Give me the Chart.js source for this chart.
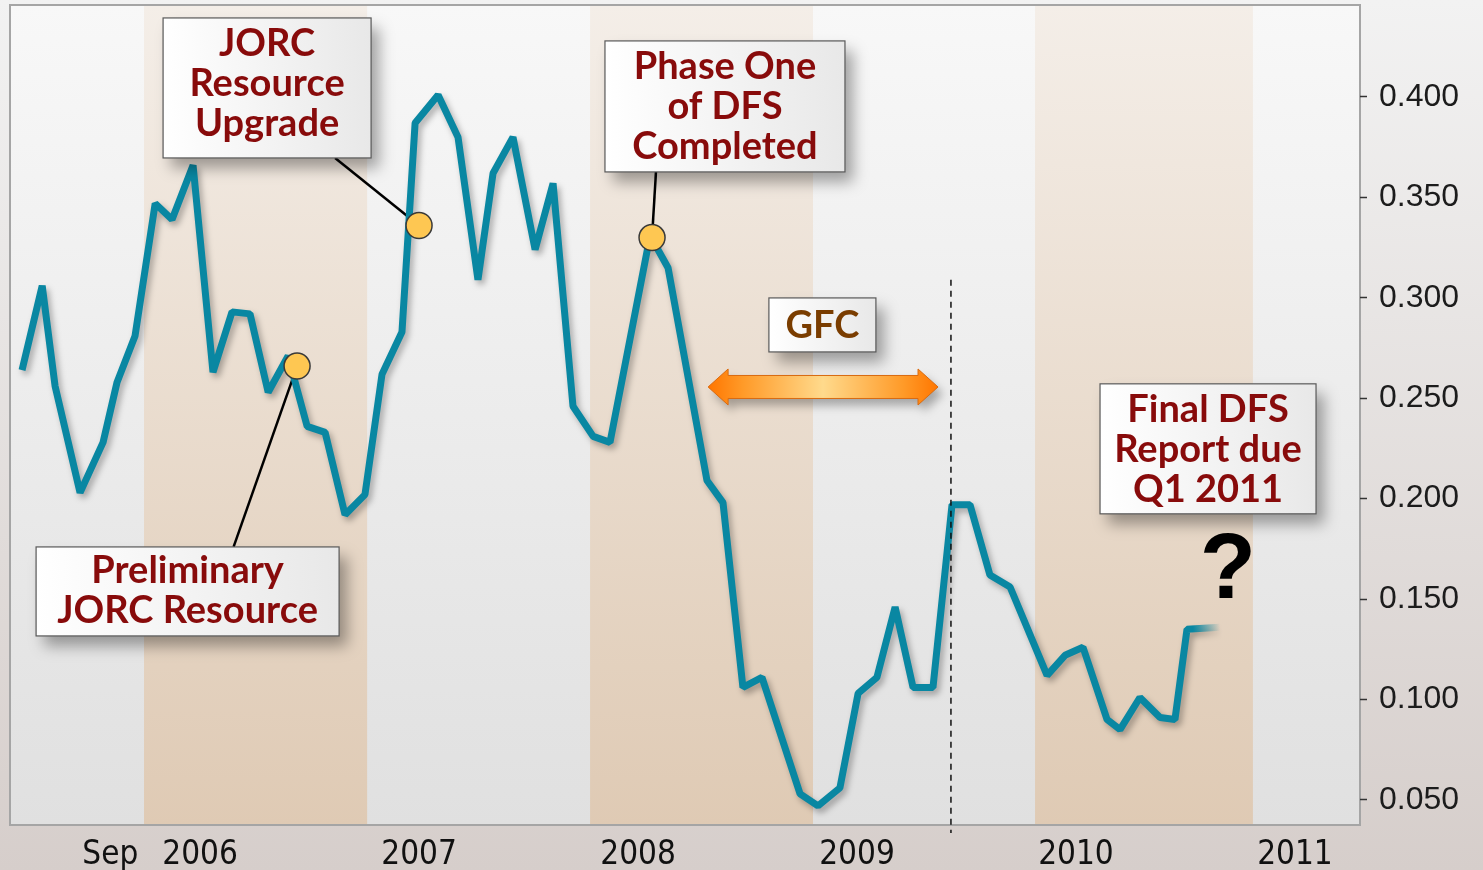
<!DOCTYPE html>
<html>
<head>
<meta charset="utf-8">
<title>Share price</title>
<script src="https://cdn.jsdelivr.net/npm/chart.js@4.4.1/dist/chart.umd.min.js"></script>
<style>
  html, body { margin: 0; padding: 0; background: #e4e0de; }
  #wrap { width: 1483px; height: 870px; }
</style>
</head>
<body>
<div id="wrap"><canvas id="chart" width="1483" height="870"></canvas></div>
<script>
// price data (decimal year, $)
const dates = [2005.187, 2005.279, 2005.338, 2005.452, 2005.557, 2005.621, 2005.703, 2005.795, 2005.872, 2005.968,
  2006.059, 2006.146, 2006.228, 2006.311, 2006.402, 2006.489, 2006.571, 2006.662, 2006.753, 2006.831,
  2006.922, 2006.982, 2007.087, 2007.178, 2007.269, 2007.338, 2007.429, 2007.530, 2007.612, 2007.703,
  2007.795, 2007.872, 2008.055, 2008.137, 2008.315, 2008.388, 2008.479, 2008.566, 2008.740, 2008.822,
  2008.922, 2009.005, 2009.091, 2009.174, 2009.256, 2009.347, 2009.434, 2009.516, 2009.607, 2009.699,
  2009.868, 2009.950, 2010.032, 2010.142, 2010.201, 2010.292, 2010.384, 2010.452, 2010.507, 2010.658];
const price = [0.264, 0.306, 0.256, 0.203, 0.228, 0.258, 0.281, 0.347, 0.339, 0.366,
  0.263, 0.293, 0.292, 0.253, 0.271, 0.236, 0.233, 0.192, 0.202, 0.262,
  0.283, 0.387, 0.401, 0.380, 0.309, 0.362, 0.380, 0.324, 0.357, 0.246,
  0.231, 0.228, 0.331, 0.315, 0.209, 0.198, 0.106, 0.111, 0.053, 0.047,
  0.056, 0.103, 0.111, 0.146, 0.106, 0.106, 0.197, 0.197, 0.162, 0.156,
  0.112, 0.122, 0.126, 0.090, 0.085, 0.101, 0.091, 0.090, 0.135, 0.136];

// milestones on the line
const eventDates = [2006.443, 2007.0, 2008.064];
const eventPrice = [0.266, 0.336, 0.330];

// shaded years
const bandStart = [2005.744, 2007.781, 2009.813];
const bandEnd = [2006.763, 2008.799, 2010.808];

// axis labels
const xTicks = [2005.59, 2006, 2007, 2008, 2009, 2010, 2011];
const xLabels = ["Sep", "2006", "2007", "2008", "2009", "2010", "2011"];
const yTicks = [0.05, 0.1, 0.15, 0.2, 0.25, 0.3, 0.35, 0.4];

// annotations
const gfcDate = 2009.429;
const notes = [
  { lines: ["JORC", "Resource", "Upgrade"], x: 2006.306, y: 0.4045, w: 208, h: 140, shift: -4, lead: { dx: 68, side: 1, event: 1 } },
  { lines: ["Phase One", "of DFS", "Completed"], x: 2008.397, y: 0.3953, w: 240, h: 131, shift: 0, lead: { dx: -69, side: 1, event: 2 } },
  { lines: ["Preliminary", "JORC Resource"], x: 2005.943, y: 0.1538, w: 303, h: 89, shift: -1, lead: { dx: 46, side: -1, event: 0 } },
  { lines: ["Final DFS", "Report due", "Q1 2011"], x: 2010.603, y: 0.2248, w: 216, h: 130, shift: 1 },
  { lines: ["GFC"], x: 2008.842, y: 0.2865, w: 107, h: 54, shift: 1, color: "#7a3d00" },
];

const teal = "#0987a2";
const chart = document.querySelector("#chart").getContext("2d");

const drawNote = (ctx, n, cx, cy) => {
  const l = cx - n.w / 2, t = cy - n.h / 2;
  ctx.save();
  ctx.shadowColor = "rgba(0,0,0,0.35)";
  ctx.shadowBlur = 14;
  ctx.shadowOffsetX = 8;
  ctx.shadowOffsetY = 10;
  const g = ctx.createLinearGradient(l, 0, l + n.w, 0);
  g.addColorStop(0, "#ffffff");
  g.addColorStop(1, "#e8e8e8");
  ctx.fillStyle = g;
  ctx.fillRect(l, t, n.w, n.h);
  ctx.restore();
  ctx.save();
  ctx.strokeStyle = "#595959";
  ctx.lineWidth = 1.2;
  ctx.strokeRect(l, t, n.w, n.h);
  ctx.fillStyle = n.color || "#880b0b";
  ctx.font = "bold 38px Lato";
  ctx.textAlign = "center";
  ctx.textBaseline = "middle";
  n.lines.forEach((s, i) => {
    ctx.fillText(s, cx, cy + (i - (n.lines.length - 1) / 2) * 40 + n.shift);
  });
  ctx.restore();
};

const drawArrow = (ctx, x0, x1, y) => {
  const head = 20, hh = 18, sh = 11.5;
  ctx.save();
  ctx.beginPath();
  ctx.moveTo(x0, y);
  ctx.lineTo(x0 + head, y - hh);
  ctx.lineTo(x0 + head, y - sh);
  ctx.lineTo(x1 - head, y - sh);
  ctx.lineTo(x1 - head, y - hh);
  ctx.lineTo(x1, y);
  ctx.lineTo(x1 - head, y + hh);
  ctx.lineTo(x1 - head, y + sh);
  ctx.lineTo(x0 + head, y + sh);
  ctx.lineTo(x0 + head, y + hh);
  ctx.closePath();
  const g = ctx.createLinearGradient(x0, 0, x1, 0);
  g.addColorStop(0, "#ff7600");
  g.addColorStop(0.15, "#ff9a28");
  g.addColorStop(0.5, "#ffda8c");
  g.addColorStop(0.85, "#ff9a28");
  g.addColorStop(1, "#ff7600");
  ctx.shadowColor = "rgba(0,0,0,0.3)";
  ctx.shadowBlur = 10;
  ctx.shadowOffsetX = 5;
  ctx.shadowOffsetY = 7;
  ctx.fillStyle = g;
  ctx.fill();
  ctx.shadowColor = "transparent";
  ctx.strokeStyle = "#d96a10";
  ctx.lineWidth = 1;
  ctx.stroke();
  ctx.restore();
};

// background, year bands and frame
const backdrop = {
  id: "backdrop",
  beforeDraw(c) {
    const { ctx, chartArea: a, scales: { x } } = c;
    ctx.save();
    let g = ctx.createLinearGradient(0, 0, 0, c.height);
    g.addColorStop(0, "#f2f2f2");
    g.addColorStop(1, "#d6cecb");
    ctx.fillStyle = g;
    ctx.fillRect(0, 0, c.width, c.height);
    g = ctx.createLinearGradient(0, a.top, 0, a.bottom);
    g.addColorStop(0, "#f8f8f8");
    g.addColorStop(1, "#e0e0e0");
    ctx.fillStyle = g;
    ctx.fillRect(a.left, a.top, a.width, a.height);
    g = ctx.createLinearGradient(0, a.top, 0, a.bottom);
    g.addColorStop(0, "#f4eee8");
    g.addColorStop(1, "#dfcab4");
    ctx.fillStyle = g;
    bandStart.forEach((s, i) => {
      const x0 = x.getPixelForValue(s), x1 = x.getPixelForValue(bandEnd[i]);
      ctx.fillRect(x0, a.top, x1 - x0, a.height);
    });
    ctx.strokeStyle = "#a5a5a5";
    ctx.lineWidth = 2;
    ctx.strokeRect(a.left, a.top, a.width, a.height);
    ctx.restore();
  },
  beforeDatasetsDraw(c) {
    const { ctx, scales: { x, y } } = c;
    ctx.save();
    ctx.strokeStyle = "#000";
    ctx.lineWidth = 2.5;
    notes.forEach((n) => {
      if (!n.lead) return;
      const cx = x.getPixelForValue(n.x), cy = y.getPixelForValue(n.y);
      ctx.beginPath();
      ctx.moveTo(cx + n.lead.dx, cy + n.lead.side * n.h / 2);
      ctx.lineTo(x.getPixelForValue(eventDates[n.lead.event]), y.getPixelForValue(eventPrice[n.lead.event]));
      ctx.stroke();
    });
    ctx.restore();
  },
  beforeDatasetDraw(c, args) {
    if (args.index !== 1) return;
    const ctx = c.ctx;
    ctx.save();
    ctx.shadowColor = "rgba(0,0,0,0.3)";
    ctx.shadowBlur = 6;
    ctx.shadowOffsetX = 3;
    ctx.shadowOffsetY = 4;
  },
  afterDatasetDraw(c, args) {
    if (args.index === 1) c.ctx.restore();
  },
  afterDatasetsDraw(c) {
    const { ctx, chartArea: a, scales: { x, y } } = c;
    // GFC divider
    const gx = x.getPixelForValue(gfcDate);
    ctx.save();
    ctx.strokeStyle = "#111";
    ctx.lineWidth = 1.5;
    ctx.setLineDash([6, 5]);
    ctx.beginPath();
    ctx.moveTo(gx, y.getPixelForValue(0.309));
    ctx.lineTo(gx, a.bottom + 8);
    ctx.stroke();
    ctx.restore();

    drawArrow(ctx, x.getPixelForValue(2008.32), x.getPixelForValue(2009.37), y.getPixelForValue(0.2556));
    notes.forEach((n) => drawNote(ctx, n, x.getPixelForValue(n.x), y.getPixelForValue(n.y)));

    ctx.save();
    ctx.fillStyle = "#000";
    ctx.font = "bold 92px 'Liberation Sans'";
    ctx.textAlign = "center";
    ctx.textBaseline = "middle";
    ctx.fillText("?", x.getPixelForValue(2010.694), y.getPixelForValue(0.163));
    ctx.restore();
  },
};

// line fades out after the last real close
const fadeEnd = (context) => {
  const { chart: c } = context;
  if (!c.chartArea) return teal;
  const x = c.scales.x;
  const x0 = x.getPixelForValue(dates[dates.length - 2]) + 6;
  const x1 = x.getPixelForValue(dates[dates.length - 1]);
  const g = c.ctx.createLinearGradient(x0, 0, x1, 0);
  g.addColorStop(0, teal);
  g.addColorStop(1, "rgba(9,135,162,0)");
  return g;
};

new Chart(chart, {
  type: "line",
  data: {
    datasets: [
      {
        label: "Events",
        data: eventDates.map((d, i) => ({ x: d, y: eventPrice[i] })),
        showLine: false,
        pointRadius: 13,
        pointBackgroundColor: "#fec752",
        pointBorderColor: "#3a3a3a",
        pointBorderWidth: 1.5,
        order: 0,
      },
      {
        label: "Price",
        data: dates.map((d, i) => ({ x: d, y: price[i] })),
        borderColor: fadeEnd,
        borderWidth: 7,
        borderJoinStyle: "bevel",
        pointRadius: 0,
        tension: 0,
        order: 1,
      },
    ],
  },
  options: {
    responsive: false,
    animation: false,
    devicePixelRatio: 1,
    layout: { autoPadding: false, padding: { left: 10, top: 5, right: 0, bottom: 0 } },
    plugins: {
      legend: { display: false },
      tooltip: { enabled: false },
    },
    scales: {
      x: {
        type: "linear",
        min: 2005.132,
        max: 2011.297,
        afterBuildTicks: (s) => { s.ticks = xTicks.map((v) => ({ value: v })); },
        afterFit: (s) => { s.height = 45; s.paddingLeft = 0; s.paddingRight = 0; },
        grid: { display: false },
        border: { display: false },
        ticks: {
          autoSkip: false,
          maxRotation: 0,
          padding: 3,
          color: "#111",
          font: { family: "'DejaVu Sans Condensed'", size: 33 },
          callback: (v, i) => xLabels[i],
        },
      },
      y: {
        position: "right",
        min: 0.0375,
        max: 0.4458,
        afterBuildTicks: (s) => { s.ticks = yTicks.map((v) => ({ value: v })); },
        afterFit: (s) => { s.width = 123; s.paddingTop = 0; s.paddingBottom = 0; },
        grid: { drawOnChartArea: false, drawTicks: true, tickLength: 7, tickColor: "#333", tickWidth: 1.5 },
        border: { display: false },
        ticks: {
          padding: 12,
          color: "#1c1c1c",
          font: { family: "'Liberation Sans'", size: 32 },
          callback: (v) => v.toFixed(3),
        },
      },
    },
  },
  plugins: [backdrop],
});
</script>
</body>
</html>
